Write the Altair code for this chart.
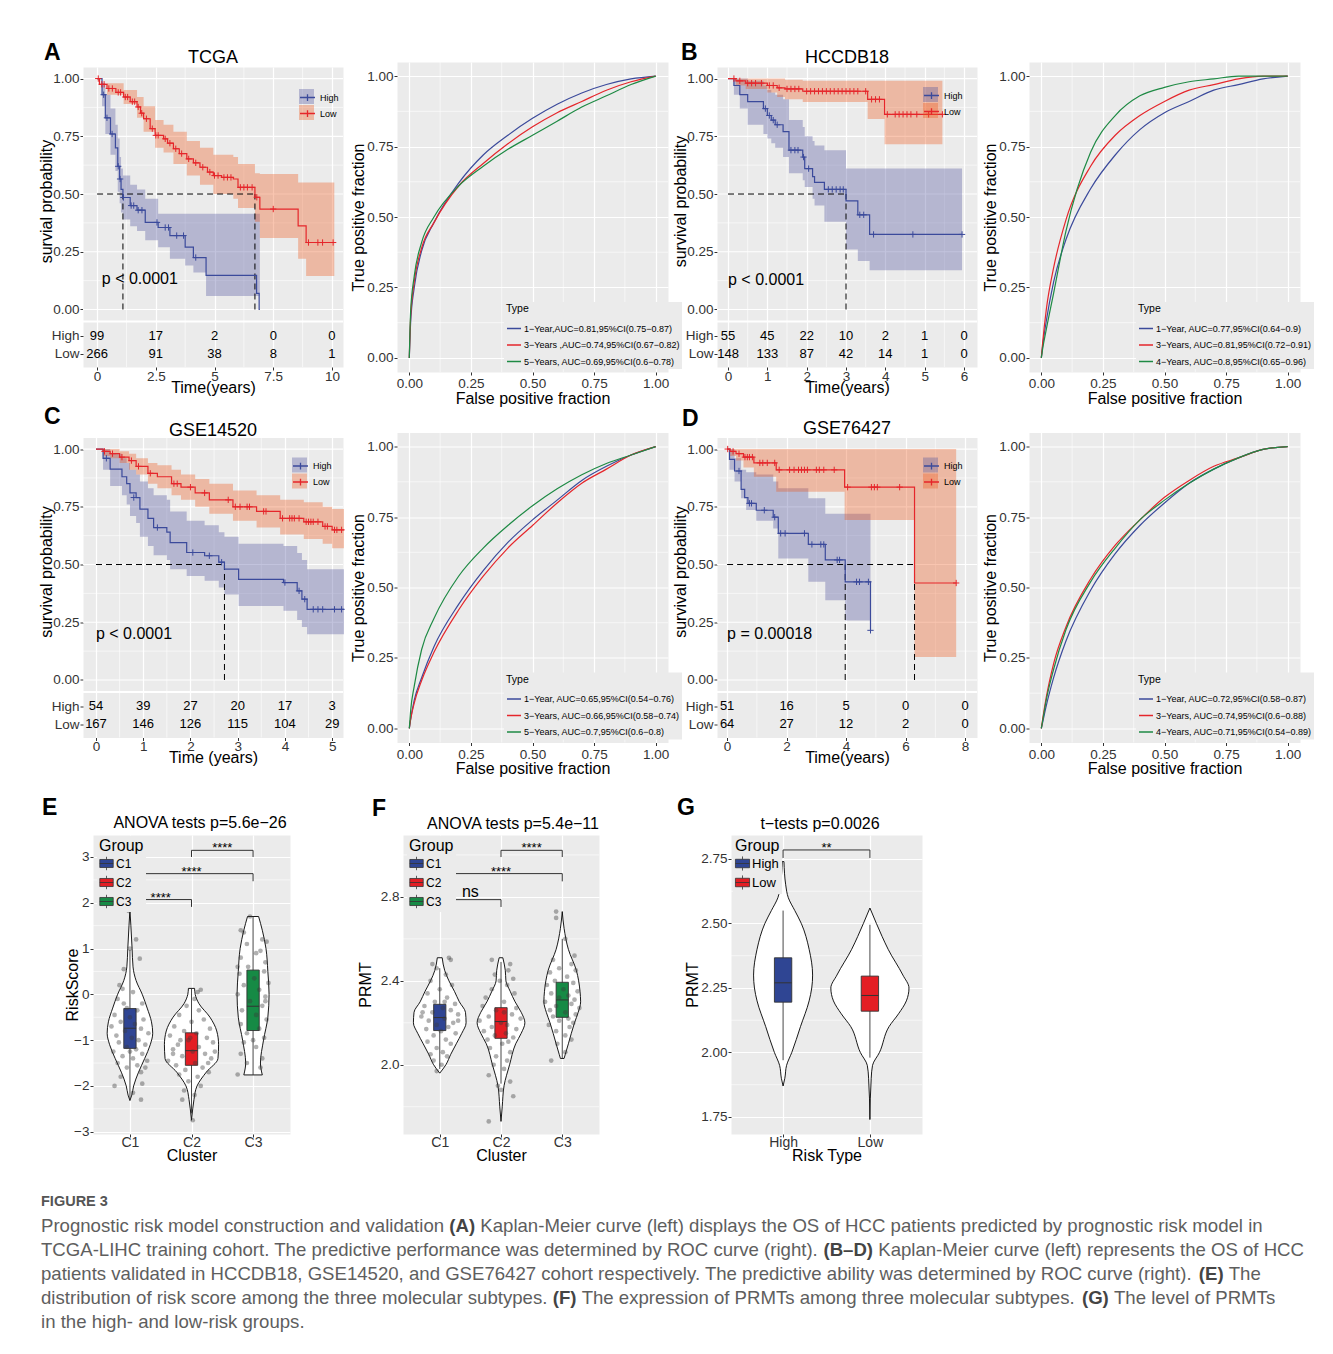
import altair as alt
import pandas as pd

FONT = "Liberation Sans"
PANEL = "#EBEBEB"
INK = "#333333"
BLUE = "#3B4A9B"
RED = "#E5262B"
GREEN = "#1E8A44"
BAND_BLUE = "#50549F"
BAND_RED = "#EE5A1C"
BOX_COLORS3 = ["#2F4593", "#E31E24", "#168A45"]
BOX_COLORS2 = ["#2F4593", "#E31E24"]

PLUS = "M-1,0H1M0,-1V1"
LEG_PLUS = "M-1,0H1M0,-0.45V0.45"
BOX_GLYPH = "M-1,-0.6H1V0.6H-1Z M-1,0H1 M0,-0.6V-1 M0,0.6V1"

KM_W, KM_H = 260, 300
ROC_W, ROC_H = 271, 310
KM_YDOM = [-0.249, 1.05]
RISK_ROW_Y = {"High": -0.114, "Low": -0.192}
KM_SPLIT_Y = -0.052
SURV_TICKS = [0, 0.25, 0.5, 0.75, 1.0]
SURV_MINOR = [0.125, 0.375, 0.625, 0.875]
FRAC_TICKS = [0, 0.25, 0.5, 0.75, 1.0]
FRAC_MINOR = [0.125, 0.375, 0.625, 0.875]

# ---------------- (A) TCGA ----------------
A_X_DOMAIN = [-0.6, 10.47]
A_X_TICKS = [0, 2.5, 5, 7.5, 10]
A_X_MINOR = [1.25, 3.75, 6.25, 8.75]
A_HIGH = [(0, 1.0), (0.21, 0.93), (0.35, 0.83), (0.57, 0.76), (0.78, 0.70), (0.88, 0.62), (0.96, 0.565),
          (1.02, 0.52), (1.1, 0.485), (1.41, 0.45), (1.7, 0.43), (2.05, 0.377), (2.6, 0.355), (3.1, 0.32),
          (3.75, 0.27), (4.1, 0.225), (4.64, 0.148), (6.79, 0.07), (6.9, 0.0), (6.93, 0.0)]
A_HIGH_BAND = [(0, 1.0, 1.0), (0.21, 0.88, 0.98), (0.35, 0.76, 0.93), (0.57, 0.67, 0.87), (0.78, 0.60, 0.80),
               (0.88, 0.51, 0.74), (0.96, 0.46, 0.66), (1.02, 0.42, 0.61), (1.1, 0.39, 0.58), (1.41, 0.36, 0.54),
               (1.7, 0.34, 0.52), (2.05, 0.30, 0.48), (2.6, 0.27, 0.415), (3.1, 0.22, 0.415), (3.75, 0.19, 0.415),
               (4.1, 0.16, 0.415), (4.64, 0.058, 0.415), (6.93, 0.058, 0.415)]
A_LOW = [(0, 1.0), (0.1, 0.975), (0.42, 0.957), (0.8, 0.94), (1.13, 0.92), (1.41, 0.90), (1.7, 0.877),
         (1.85, 0.85), (1.98, 0.826), (2.26, 0.783), (2.47, 0.754), (2.83, 0.739), (3.0, 0.72), (3.25, 0.696),
         (3.5, 0.675), (3.82, 0.652), (4.1, 0.635), (4.38, 0.616), (4.7, 0.595), (4.95, 0.58), (5.3, 0.572),
         (5.8, 0.565), (6.0, 0.529), (6.72, 0.486), (6.93, 0.435), (8.56, 0.362), (8.9, 0.29), (10.1, 0.29)]
A_LOW_BAND = [(0, 1.0, 1.0), (0.42, 0.93, 0.98), (1.13, 0.89, 0.95), (1.7, 0.83, 0.92), (1.98, 0.77, 0.88),
              (2.47, 0.70, 0.82), (2.83, 0.68, 0.80), (3.25, 0.63, 0.77), (3.82, 0.58, 0.73), (4.38, 0.54, 0.70),
              (4.95, 0.50, 0.67), (5.8, 0.48, 0.66), (6.0, 0.44, 0.63), (6.72, 0.38, 0.59), (6.93, 0.31, 0.587),
              (8.56, 0.22, 0.55), (8.9, 0.145, 0.55), (10.1, 0.145, 0.55)]
A_HIGH_CENS = [(0.28, 0.93), (0.42, 0.83), (0.64, 0.76), (0.9, 0.62), (0.98, 0.565), (1.12, 0.485), (1.45, 0.45),
               (1.56, 0.45), (1.75, 0.43), (1.91, 0.43), (2.55, 0.377), (2.9, 0.355), (3.04, 0.355), (3.39, 0.32),
               (3.68, 0.32), (4.2, 0.225)]
A_LOW_CENS = [(0.05, 1.0), (0.2, 0.975), (0.3, 0.975), (0.5, 0.957), (0.65, 0.957), (0.9, 0.94), (1.0, 0.94),
              (1.2, 0.92), (1.3, 0.92), (1.5, 0.90), (1.6, 0.90), (1.75, 0.877), (1.9, 0.85), (2.1, 0.826),
              (2.35, 0.783), (2.5, 0.754), (2.6, 0.754), (2.9, 0.739), (3.1, 0.72), (3.35, 0.696), (3.6, 0.675),
              (3.9, 0.652), (4.2, 0.635), (4.5, 0.616), (4.8, 0.595), (5.0, 0.58), (5.15, 0.58), (5.4, 0.572),
              (5.55, 0.572), (5.7, 0.572), (6.1, 0.529), (6.25, 0.529), (6.4, 0.529), (6.6, 0.529), (6.8, 0.486),
              (7.5, 0.435), (9.0, 0.29), (9.4, 0.29), (9.6, 0.29), (10.05, 0.29)]
A_MEDIANS = [1.1, 6.72]
A_RISK_T = [0, 2.5, 5, 7.5, 10]
A_RISK_HIGH = [99, 17, 2, 0, 0]
A_RISK_LOW = [266, 91, 38, 8, 1]

# ---------------- (B) HCCDB18 ----------------
B_X_DOMAIN = [-0.28, 6.33]
B_X_TICKS = [0, 1, 2, 3, 4, 5, 6]
B_X_MINOR = [0.5, 1.5, 2.5, 3.5, 4.5, 5.5]
B_HIGH = [(0, 1.0), (0.15, 0.97), (0.3, 0.93), (0.5, 0.90), (0.9, 0.87), (1.0, 0.84), (1.1, 0.82), (1.2, 0.80),
          (1.4, 0.77), (1.55, 0.69), (1.9, 0.66), (1.95, 0.61), (2.15, 0.575), (2.2, 0.55), (2.45, 0.52),
          (3.0, 0.47), (3.3, 0.41), (3.6, 0.325), (5.95, 0.325)]
B_HIGH_BAND = [(0, 1.0, 1.0), (0.15, 0.93, 1.0), (0.3, 0.87, 1.0), (0.5, 0.80, 0.99), (0.9, 0.76, 0.97),
               (1.0, 0.74, 0.95), (1.1, 0.72, 0.94), (1.2, 0.70, 0.93), (1.4, 0.66, 0.91), (1.55, 0.59, 0.82),
               (1.9, 0.56, 0.79), (1.95, 0.53, 0.75), (2.15, 0.48, 0.73), (2.2, 0.45, 0.71), (2.45, 0.38, 0.69),
               (3.0, 0.26, 0.61), (3.3, 0.21, 0.61), (3.6, 0.17, 0.61), (5.95, 0.17, 0.61)]
B_LOW = [(0, 1.0), (0.2, 0.99), (0.45, 0.98), (1.0, 0.97), (1.25, 0.96), (1.45, 0.955), (1.9, 0.945),
         (3.55, 0.91), (3.98, 0.845), (5.45, 0.845)]
B_LOW_BAND = [(0, 1.0, 1.0), (0.2, 0.97, 1.0), (0.45, 0.955, 1.0), (1.0, 0.94, 1.0), (1.25, 0.92, 1.0),
              (1.45, 0.91, 0.995), (1.9, 0.898, 0.99), (3.55, 0.825, 0.99), (3.98, 0.715, 0.99), (5.45, 0.715, 0.99)]
B_HIGH_CENS = [(0.95, 0.87), (1.05, 0.84), (1.15, 0.82), (1.25, 0.80), (1.6, 0.69), (1.7, 0.69), (1.78, 0.69),
               (1.92, 0.66), (2.05, 0.61), (2.55, 0.52), (2.65, 0.52), (2.75, 0.52), (2.85, 0.52), (2.93, 0.52),
               (3.35, 0.41), (3.45, 0.41), (3.7, 0.325), (4.7, 0.325), (5.95, 0.325)]
B_LOW_CENS = [(0.15, 1.0), (0.3, 0.99), (0.5, 0.98), (0.6, 0.98), (0.7, 0.98), (0.85, 0.98), (1.05, 0.97),
              (1.15, 0.97), (1.3, 0.96), (1.5, 0.955), (1.6, 0.955), (1.7, 0.955), (1.8, 0.955), (2.0, 0.945),
              (2.1, 0.945), (2.2, 0.945), (2.3, 0.945), (2.4, 0.945), (2.5, 0.945), (2.6, 0.945), (2.7, 0.945),
              (2.8, 0.945), (2.9, 0.945), (3.0, 0.945), (3.1, 0.945), (3.2, 0.945), (3.3, 0.945), (3.5, 0.945),
              (3.65, 0.91), (3.75, 0.91), (3.85, 0.91), (4.05, 0.845), (4.25, 0.845), (4.35, 0.845), (4.45, 0.845),
              (4.55, 0.845), (4.65, 0.845), (4.8, 0.845), (5.1, 0.845), (5.45, 0.845)]
B_MEDIANS = [3.0]
B_RISK_T = [0, 1, 2, 3, 4, 5, 6]
B_RISK_HIGH = [55, 45, 22, 10, 2, 1, 0]
B_RISK_LOW = [148, 133, 87, 42, 14, 1, 0]

# ---------------- (C) GSE14520 ----------------
C_X_DOMAIN = [-0.275, 5.23]
C_X_TICKS = [0, 1, 2, 3, 4, 5]
C_X_MINOR = [0.5, 1.5, 2.5, 3.5, 4.5]
C_HIGH = [(0, 1.0), (0.15, 0.96), (0.3, 0.913), (0.55, 0.88), (0.65, 0.85), (0.72, 0.81), (0.85, 0.79),
          (0.93, 0.74), (1.1, 0.70), (1.22, 0.66), (1.5, 0.64), (1.57, 0.595), (1.92, 0.552), (2.3, 0.538),
          (2.6, 0.51), (2.72, 0.48), (3.02, 0.436), (3.97, 0.422), (4.26, 0.386), (4.36, 0.35), (4.47, 0.306),
          (5.25, 0.306)]
C_HIGH_BAND = [(0, 1.0, 1.0), (0.15, 0.91, 1.0), (0.3, 0.84, 0.98), (0.55, 0.80, 0.96), (0.65, 0.76, 0.94),
               (0.72, 0.71, 0.91), (0.85, 0.68, 0.89), (0.93, 0.62, 0.86), (1.1, 0.58, 0.83), (1.22, 0.54, 0.80),
               (1.5, 0.52, 0.78), (1.57, 0.48, 0.73), (1.92, 0.45, 0.69), (2.3, 0.43, 0.67), (2.6, 0.40, 0.64),
               (2.72, 0.37, 0.62), (3.02, 0.32, 0.59), (3.97, 0.30, 0.58), (4.26, 0.26, 0.55), (4.36, 0.23, 0.52),
               (4.47, 0.198, 0.48), (5.25, 0.198, 0.48)]
C_LOW = [(0, 1.0), (0.15, 0.99), (0.3, 0.98), (0.5, 0.965), (0.7, 0.95), (0.85, 0.925), (1.1, 0.895),
         (1.3, 0.88), (1.6, 0.85), (1.8, 0.835), (2.1, 0.81), (2.4, 0.78), (2.9, 0.75), (3.4, 0.73), (3.9, 0.70),
         (4.4, 0.685), (4.8, 0.665), (5.0, 0.65), (5.25, 0.65)]
C_LOW_BAND = [(0, 1.0, 1.0), (0.15, 0.97, 1.0), (0.3, 0.96, 1.0), (0.5, 0.94, 0.99), (0.7, 0.91, 0.98),
              (0.85, 0.89, 0.96), (1.1, 0.85, 0.94), (1.3, 0.83, 0.93), (1.6, 0.80, 0.91), (1.8, 0.78, 0.89),
              (2.1, 0.75, 0.87), (2.4, 0.72, 0.85), (2.9, 0.69, 0.82), (3.4, 0.66, 0.80), (3.9, 0.63, 0.78),
              (4.4, 0.61, 0.77), (4.8, 0.59, 0.75), (5.0, 0.57, 0.74), (5.25, 0.57, 0.74)]
C_HIGH_CENS = [(0.22, 0.96), (0.8, 0.79), (1.3, 0.66), (2.05, 0.552), (2.4, 0.538), (2.66, 0.51), (4.0, 0.422),
               (4.3, 0.386), (4.42, 0.35), (4.6, 0.306), (4.7, 0.306), (4.8, 0.306), (5.05, 0.306), (5.2, 0.306)]
C_LOW_CENS = [(0.18, 0.99), (0.35, 0.98), (0.55, 0.965), (0.75, 0.95), (0.9, 0.925), (1.15, 0.895), (1.65, 0.85),
              (1.72, 0.85), (2.0, 0.835), (2.3, 0.81), (2.8, 0.78), (2.95, 0.75), (3.05, 0.75), (3.2, 0.75),
              (3.25, 0.75), (3.55, 0.73), (3.6, 0.73), (3.95, 0.70), (4.1, 0.70), (4.15, 0.70), (4.2, 0.70),
              (4.3, 0.70), (4.45, 0.685), (4.5, 0.685), (4.55, 0.685), (4.6, 0.685), (4.7, 0.685), (4.85, 0.665),
              (4.9, 0.665), (5.05, 0.65), (5.1, 0.65), (5.2, 0.65)]
C_MEDIANS = [2.72]
C_RISK_T = [0, 1, 2, 3, 4, 5]
C_RISK_HIGH = [54, 39, 27, 20, 17, 3]
C_RISK_LOW = [167, 146, 126, 115, 104, 29]

# ---------------- (D) GSE76427 ----------------
D_X_DOMAIN = [-0.34, 8.4]
D_X_TICKS = [0, 2, 4, 6, 8]
D_X_MINOR = [1, 3, 5, 7]
D_HIGH = [(0, 1.0), (0.08, 0.955), (0.25, 0.905), (0.47, 0.825), (0.59, 0.79), (0.7, 0.765), (0.98, 0.735),
          (1.55, 0.705), (1.72, 0.635), (2.73, 0.587), (3.3, 0.52), (3.97, 0.425), (4.82, 0.215)]
D_HIGH_BAND = [(0, 1.0, 1.0), (0.08, 0.91, 1.0), (0.25, 0.86, 0.96), (0.47, 0.787, 0.91), (0.64, 0.736, 0.90),
               (0.98, 0.69, 0.89), (1.55, 0.656, 0.86), (1.72, 0.526, 0.83), (2.73, 0.425, 0.787),
               (3.3, 0.345, 0.72), (3.97, 0.258, 0.72), (4.82, 0.258, 0.72)]
D_LOW = [(0, 1.0), (0.1, 0.99), (0.3, 0.98), (0.55, 0.965), (0.9, 0.94), (1.65, 0.91), (3.95, 0.835),
         (6.3, 0.42), (7.7, 0.42)]
D_LOW_BAND = [(0, 1.0, 1.0), (0.1, 0.97, 1.0), (0.3, 0.95, 1.0), (0.55, 0.92, 1.0), (0.9, 0.88, 1.0),
              (1.65, 0.815, 1.0), (3.95, 0.693, 1.0), (6.3, 0.10, 1.0), (7.7, 0.10, 1.0)]
D_HIGH_CENS = [(0.4, 0.905), (0.75, 0.765), (0.82, 0.765), (1.25, 0.735), (1.6, 0.705), (1.8, 0.635),
               (1.95, 0.635), (2.6, 0.635), (2.85, 0.587), (3.15, 0.587), (3.25, 0.587), (3.7, 0.52),
               (3.78, 0.52), (4.35, 0.425), (4.45, 0.425), (4.75, 0.425), (4.82, 0.215)]
D_LOW_CENS = [(0.02, 1.0), (0.2, 0.99), (0.4, 0.98), (0.6, 0.965), (0.68, 0.965), (0.75, 0.965), (0.85, 0.965),
              (1.1, 0.94), (1.2, 0.94), (1.35, 0.94), (1.6, 0.94), (1.75, 0.91), (2.1, 0.91), (2.25, 0.91),
              (2.4, 0.91), (2.5, 0.91), (2.6, 0.91), (2.7, 0.91), (3.0, 0.91), (3.1, 0.91), (3.25, 0.91),
              (3.6, 0.91), (4.05, 0.835), (4.85, 0.835), (4.95, 0.835), (5.05, 0.835), (5.8, 0.835), (7.7, 0.42)]
D_MEDIANS = [3.97, 6.3]
D_RISK_T = [0, 2, 4, 6, 8]
D_RISK_HIGH = [51, 16, 5, 0, 0]
D_RISK_LOW = [64, 27, 12, 2, 0]

# ---------------- ROC curves ----------------
FPR = [0, 0.005, 0.02, 0.05, 0.1, 0.2, 0.3, 0.4, 0.5, 0.6, 0.7, 0.8, 0.9, 1.0]
ROC_A = [[0, 0.12, 0.25, 0.38, 0.48, 0.62, 0.72, 0.79, 0.85, 0.90, 0.94, 0.97, 0.99, 1.0],
         [0, 0.14, 0.27, 0.39, 0.48, 0.61, 0.69, 0.76, 0.82, 0.87, 0.91, 0.95, 0.98, 1.0],
         [0, 0.16, 0.29, 0.41, 0.50, 0.61, 0.68, 0.74, 0.79, 0.84, 0.89, 0.93, 0.97, 1.0]]
ROC_A_LABELS = ["1\u2212Year,AUC=0.81,95%CI(0.75\u22120.87)", "3\u2212Years ,AUC=0.74,95%CI(0.67\u22120.82)",
                "5\u2212Years, AUC=0.69,95%CI(0.6\u22120.78)"]
ROC_B = [[0, 0.04, 0.13, 0.27, 0.42, 0.60, 0.72, 0.81, 0.87, 0.91, 0.95, 0.97, 0.99, 1.0],
         [0, 0.05, 0.17, 0.32, 0.49, 0.68, 0.79, 0.86, 0.91, 0.95, 0.97, 0.99, 1.0, 1.0],
         [0, 0.03, 0.10, 0.23, 0.45, 0.73, 0.86, 0.93, 0.96, 0.98, 0.99, 1.0, 1.0, 1.0]]
ROC_B_LABELS = ["1\u2212Year,  AUC=0.77,95%CI(0.64\u22120.9)", "3\u2212Years, AUC=0.81,95%CI(0.72\u22120.91)",
                "4\u2212Years, AUC=0.8,95%CI(0.65\u22120.96)"]
ROC_C = [[0, 0.03, 0.10, 0.18, 0.29, 0.44, 0.56, 0.66, 0.74, 0.81, 0.88, 0.93, 0.97, 1.0],
         [0, 0.03, 0.09, 0.17, 0.27, 0.42, 0.54, 0.64, 0.72, 0.80, 0.87, 0.92, 0.97, 1.0],
         [0, 0.06, 0.15, 0.28, 0.39, 0.54, 0.64, 0.72, 0.79, 0.85, 0.90, 0.94, 0.97, 1.0]]
ROC_C_LABELS = ["1\u2212Year,   AUC=0.65,95%CI(0.54\u22120.76)", "3\u2212Years, AUC=0.66,95%CI(0.58\u22120.74)",
                "5\u2212Years, AUC=0.7,95%CI(0.6\u22120.8)"]
ROC_D = [[0, 0.02, 0.08, 0.18, 0.31, 0.49, 0.62, 0.72, 0.80, 0.87, 0.92, 0.96, 0.99, 1.0],
         [0, 0.03, 0.11, 0.23, 0.36, 0.53, 0.65, 0.74, 0.82, 0.88, 0.93, 0.96, 0.99, 1.0],
         [0, 0.025, 0.10, 0.21, 0.35, 0.52, 0.64, 0.74, 0.81, 0.87, 0.92, 0.96, 0.99, 1.0]]
ROC_D_LABELS = ["1\u2212Year,  AUC=0.72,95%CI(0.58\u22120.87)", "3\u2212Years, AUC=0.74,95%CI(0.6\u22120.88)",
                "4\u2212Years, AUC=0.71,95%CI(0.54\u22120.89)"]

# ---------------- (E) RiskScore by cluster ----------------
CLUSTERS = ["C1", "C2", "C3"]
E_VIOLINS = [
    [(-2.32, 0.0), (-2.2, 0.03), (-2.0, 0.06), (-1.7, 0.14), (-1.4, 0.24), (-1.1, 0.33), (-0.85, 0.37),
     (-0.6, 0.35), (-0.3, 0.28), (0.0, 0.2), (0.3, 0.1), (0.6, 0.05), (1.0, 0.035), (1.5, 0.015), (1.84, 0.0)],
    [(-2.75, 0.0), (-2.5, 0.02), (-2.3, 0.04), (-2.0, 0.09), (-1.7, 0.24), (-1.4, 0.43), (-1.1, 0.44),
     (-0.8, 0.41), (-0.5, 0.3), (-0.2, 0.12), (0.0, 0.06), (0.13, 0.05)],
    [(-1.76, 0.15), (-1.5, 0.12), (-1.0, 0.17), (-0.5, 0.24), (0.0, 0.26), (0.5, 0.24), (1.0, 0.21),
     (1.4, 0.15), (1.7, 0.09)]]
E_BOX = [(-1.18, -0.74, -0.31, -2.3, 0.97), (-1.55, -1.23, -0.84, -2.6, 0.13), (-0.79, -0.26, 0.53, -1.76, 1.7)]
E_POINTS = [
    [(-0.02, 1.82), (0.1, 1.2), (0.0, 1.0), (0.16, 0.78), (-0.1, 0.55), (-0.17, 0.2), (-0.12, 0.12), (0.05, 0.05),
     (-0.2, -0.1), (0.2, -0.2), (-0.05, -0.3), (0.12, -0.35), (-0.25, -0.45), (0.0, -0.5), (0.22, -0.55),
     (-0.15, -0.6), (0.08, -0.65), (-0.3, -0.7), (0.18, -0.75), (-0.08, -0.8), (0.3, -0.85), (-0.22, -0.9),
     (0.03, -0.95), (0.14, -1.0), (-0.18, -1.05), (0.25, -1.1), (-0.05, -1.15), (0.1, -1.2), (-0.27, -1.25),
     (0.2, -1.3), (-0.12, -1.35), (0.05, -1.4), (0.28, -1.45), (-0.2, -1.5), (0.12, -1.55), (-0.05, -1.6),
     (0.18, -1.7), (-0.15, -1.8), (0.2, -1.95), (-0.25, -2.0), (0.18, -2.3), (0.05, -2.15), (0.0, -1.25),
     (-0.1, -0.2), (0.25, -1.6)],
    [(0.15, 0.1), (0.1, 0.05), (0.05, -0.1), (-0.08, -0.25), (0.12, -0.35), (-0.2, -0.45), (0.2, -0.55),
     (0.0, -0.6), (-0.28, -0.7), (0.3, -0.75), (-0.12, -0.8), (0.08, -0.85), (-0.35, -0.9), (0.25, -0.95),
     (-0.05, -1.0), (0.35, -1.05), (-0.22, -1.1), (0.12, -1.15), (-0.3, -1.2), (0.02, -1.25), (0.22, -1.3),
     (-0.15, -1.35), (0.32, -1.4), (-0.38, -1.45), (0.06, -1.5), (-0.25, -1.55), (0.18, -1.6), (-0.1, -1.65),
     (0.28, -1.7), (-0.2, -1.75), (0.1, -1.8), (-0.05, -1.9), (0.15, -2.0), (-0.12, -2.1), (0.05, -2.2),
     (-0.15, -2.3), (0.02, -2.75), (-0.3, -1.3), (0.38, -1.25), (-0.02, -0.95), (0.27, -1.5), (-0.18, -1.0)],
    [(-0.05, 1.7), (-0.2, 1.4), (-0.15, 1.35), (0.15, 1.2), (-0.1, 1.1), (0.12, 0.95), (0.05, 0.9), (-0.2, 0.8),
     (0.2, 0.7), (-0.08, 0.6), (0.18, 0.5), (-0.22, 0.45), (0.02, 0.35), (0.25, 0.25), (-0.15, 0.2), (0.1, 0.1),
     (-0.25, 0.0), (0.2, -0.05), (-0.05, -0.15), (0.15, -0.25), (-0.18, -0.35), (0.05, -0.45), (0.22, -0.55),
     (-0.2, -0.65), (0.1, -0.75), (-0.1, -0.85), (0.18, -0.95), (-0.15, -1.05), (0.05, -1.15), (-0.2, -1.3),
     (0.15, -1.4), (-0.1, -1.5), (0.12, -1.6), (-0.25, -1.75), (0.2, -0.15), (-0.25, 0.6), (0.22, 1.15),
     (0.0, -1.0)]]
E_BRACKETS = [(1, 2, 2.07, 1.91, "****"), (1, 3, 2.636, 2.47, "****"), (2, 3, 3.145, 3.0, "****")]

# ---------------- (F) PRMT by cluster ----------------
F_VIOLINS = [
    [(1.96, 0.0), (2.0, 0.1), (2.05, 0.18), (2.1, 0.27), (2.15, 0.36), (2.2, 0.43), (2.25, 0.42), (2.3, 0.32),
     (2.35, 0.24), (2.4, 0.15), (2.45, 0.08), (2.51, 0.04)],
    [(1.73, 0.0), (1.8, 0.02), (1.9, 0.05), (2.0, 0.14), (2.1, 0.24), (2.15, 0.33), (2.2, 0.39), (2.25, 0.33),
     (2.3, 0.23), (2.35, 0.15), (2.4, 0.08), (2.45, 0.07), (2.51, 0.03)],
    [(2.03, 0.03), (2.05, 0.05), (2.1, 0.1), (2.2, 0.2), (2.25, 0.26), (2.3, 0.3), (2.35, 0.29), (2.45, 0.23),
     (2.55, 0.1), (2.65, 0.03), (2.73, 0.0)]]
F_BOX = [(2.163, 2.225, 2.288, 1.98, 2.46), (2.126, 2.206, 2.272, 1.91, 2.49), (2.226, 2.309, 2.393, 2.03, 2.6)]
F_POINTS = [
    [(0.15, 2.51), (0.18, 2.5), (-0.12, 2.48), (-0.05, 2.46), (0.1, 2.43), (-0.15, 2.4), (0.2, 2.38), (0.0, 2.36),
     (-0.2, 2.34), (0.12, 2.32), (-0.08, 2.3), (0.25, 2.29), (-0.25, 2.28), (0.05, 2.27), (0.18, 2.26),
     (-0.12, 2.25), (0.3, 2.24), (-0.3, 2.23), (0.08, 2.22), (-0.18, 2.21), (0.22, 2.2), (-0.05, 2.19),
     (0.14, 2.18), (-0.22, 2.17), (0.02, 2.16), (0.26, 2.15), (-0.1, 2.14), (0.1, 2.12), (-0.2, 2.11),
     (0.18, 2.1), (-0.05, 2.08), (0.05, 2.06), (-0.15, 2.05), (0.12, 2.04), (-0.1, 2.02), (0.03, 2.0),
     (-0.05, 1.97), (0.08, 2.3), (-0.28, 2.25), (0.3, 2.21)],
    [(-0.15, 2.5), (0.15, 2.48), (0.12, 2.45), (-0.1, 2.43), (0.2, 2.41), (-0.02, 2.4), (0.1, 2.38), (-0.15, 2.36),
     (0.22, 2.34), (-0.25, 2.32), (0.05, 2.3), (-0.3, 2.28), (0.25, 2.27), (-0.08, 2.26), (0.18, 2.24),
     (-0.2, 2.23), (0.32, 2.22), (-0.35, 2.21), (0.0, 2.2), (0.1, 2.19), (-0.15, 2.18), (0.25, 2.17),
     (-0.28, 2.16), (0.08, 2.15), (-0.1, 2.14), (0.2, 2.13), (-0.22, 2.12), (0.12, 2.11), (0.02, 2.1),
     (-0.18, 2.08), (0.15, 2.06), (-0.08, 2.04), (0.1, 2.02), (-0.12, 2.0), (0.05, 1.98), (-0.2, 1.95),
     (0.15, 1.92), (-0.05, 1.9), (0.2, 1.85), (0.0, 1.88), (-0.2, 1.73), (0.05, 2.25)],
    [(-0.1, 2.73), (-0.1, 2.7), (0.05, 2.6), (0.2, 2.52), (-0.15, 2.5), (0.15, 2.48), (-0.05, 2.46), (0.22, 2.45),
     (-0.2, 2.44), (0.08, 2.42), (-0.12, 2.4), (0.18, 2.39), (-0.25, 2.38), (0.02, 2.36), (0.25, 2.35),
     (-0.18, 2.34), (0.1, 2.33), (-0.05, 2.32), (0.2, 2.31), (-0.28, 2.3), (0.15, 2.29), (-0.1, 2.28),
     (0.28, 2.27), (-0.2, 2.26), (0.05, 2.25), (0.22, 2.24), (-0.15, 2.23), (0.1, 2.22), (-0.05, 2.21),
     (0.18, 2.2), (-0.22, 2.19), (0.12, 2.18), (-0.1, 2.16), (0.05, 2.14), (0.15, 2.12), (-0.08, 2.1),
     (0.05, 2.06), (-0.18, 2.02)]]
F_BRACKETS = [(1, 2, 2.787, 2.752, "ns"), (1, 3, 2.911, 2.874, "****"), (2, 3, 3.022, 2.99, "****")]

# ---------------- (G) PRMT by risk type ----------------
RISK_TYPES = ["High", "Low"]
G_VIOLINS = [
    [(1.87, 0.0), (1.9, 0.02), (1.95, 0.04), (2.0, 0.1), (2.1, 0.2), (2.2, 0.3), (2.25, 0.33), (2.3, 0.34),
     (2.4, 0.3), (2.5, 0.21), (2.55, 0.135), (2.6, 0.06), (2.65, 0.03), (2.74, 0.01)],
    [(1.74, 0.0), (1.9, 0.015), (1.95, 0.03), (2.0, 0.11), (2.1, 0.22), (2.15, 0.33), (2.2, 0.42), (2.25, 0.45),
     (2.3, 0.38), (2.4, 0.21), (2.45, 0.14), (2.5, 0.075), (2.56, 0.0)]]
G_BOX = [(2.195, 2.27, 2.367, 1.97, 2.55), (2.16, 2.221, 2.296, 1.98, 2.495)]
G_BRACKETS = [(1, 2, 2.785, 2.754, "**")]

# ---------------- caption (segments: text, bold) ----------------
CAPTION_HEAD = "FIGURE 3"
CAPTION_LINES = [
    [("Prognostic risk model construction and validation ", False), ("(A)", True),
     (" Kaplan-Meier curve (left) displays the OS of HCC patients predicted by prognostic risk model in", False)],
    [("TCGA-LIHC training cohort. The predictive performance was determined by ROC curve (right). ", False),
     ("(B\u2013D)", True), (" Kaplan-Meier curve (left) represents the OS of HCC", False)],
    [("patients validated in HCCDB18, GSE14520, and GSE76427 cohort respectively. The predictive ability was "
      "determined by ROC curve (right). ", False), ("(E)", True), (" The", False)],
    [("distribution of risk score among the three molecular subtypes. ", False), ("(F)", True),
     (" The expression of PRMTs among three molecular subtypes. ", False), ("(G)", True),
     (" The level of PRMTs", False)],
    [("in the high- and low-risk groups.", False)],
]
CAP_FS = 18.6
CAP_W = 1217

# Arial / Liberation Sans advance widths (1/1000 em), used only to place the bold caption segments
REG_W = {" ": 278, ",": 278, "-": 333, ".": 278, "(": 333, ")": 333, "\u2013": 556, "'": 191}
REG_W.update({d: 556 for d in "0123456789"})
REG_W.update(dict(zip("ABCDEFGHIJKLMNOPQRSTUVWXYZ",
                      [667, 667, 722, 722, 667, 611, 778, 722, 278, 500, 667, 556, 833, 722, 778, 667, 778, 722,
                       667, 611, 722, 667, 944, 667, 667, 611])))
REG_W.update(dict(zip("abcdefghijklmnopqrstuvwxyz",
                      [556, 556, 500, 556, 556, 278, 556, 556, 222, 222, 500, 222, 833, 556, 556, 556, 556, 333,
                       500, 278, 556, 500, 722, 500, 500, 500])))
BOLD_W = {"(": 333, ")": 333, "A": 722, "B": 722, "D": 722, "E": 667, "F": 611, "G": 778, "\u2013": 556}

NOBG = alt.ViewBackground(fill="transparent", stroke="transparent")


def text_width(s, bold):
    tbl = BOLD_W if bold else REG_W
    return sum(tbl.get(c, REG_W.get(c, 556)) for c in s) * CAP_FS / 1000.0


def indep(c):
    return c.resolve_scale(fill="independent", stroke="independent").resolve_legend(
        fill="independent", stroke="independent")


def text_layer(txt, px, py, size, bold=False, align="left"):
    return alt.Chart(pd.DataFrame({"l": [txt]})).mark_text(
        align=align, baseline="middle", fontSize=size, fontWeight="bold" if bold else "normal",
        color="black").encode(x=alt.value(px), y=alt.value(py), text="l:N")


def spacer(w):
    return alt.Chart(pd.DataFrame({"v": [0]})).mark_point(opacity=0).encode(
        x=alt.X("v:Q", axis=None), y=alt.Y("v:Q", axis=None)).properties(width=w, height=1, view=NOBG)


def km_panel(letter, lpos, title, ty, ytitle, xtitle, xdom, xticks, xminor, high, low, high_band, low_band,
             high_cens, low_cens, medians, ptext, ppos, rt, rh, rl, lx, ly):
    xs = alt.Scale(domain=xdom, nice=False, zero=False)
    ys = alt.Scale(domain=KM_YDOM, nice=False, zero=False)
    xaxis = alt.Axis(values=xticks, format=".1~f", grid=True, titlePadding=-3.5, labelPadding=-1)
    yexpr = ("datum.value < -0.05 ? (datum.value > -0.15 ? 'High' : 'Low') : format(datum.value, '.2f')")
    yaxis = alt.Axis(values=SURV_TICKS + [RISK_ROW_Y["High"], RISK_ROW_Y["Low"]], labelExpr=yexpr, grid=False,
                     titlePadding=-3, titleY=134)

    def X(f):
        return alt.X(f"{f}:Q", scale=xs, axis=xaxis, title=xtitle)

    def Y(f):
        return alt.Y(f"{f}:Q", scale=ys, axis=yaxis, title=ytitle)

    curves = pd.DataFrame([{"t": t, "s": s, "grp": g} for g, pts in (("High", high), ("Low", low)) for t, s in pts])
    cens = pd.DataFrame([{"t": t, "s": s, "grp": g} for g, pts in (("High", high_cens), ("Low", low_cens)) for t, s in pts])
    bands = pd.DataFrame([{"t": t, "lo": lo, "hi": hi, "bgrp": g}
                          for g, b in (("High", high_band), ("Low", low_band)) for t, lo, hi in b])
    hend = max(medians)
    meds = pd.DataFrame([{"x": m, "x2": m, "y": 0.0, "y2": 0.5} for m in medians] +
                        [{"x": 0.0, "x2": hend, "y": 0.5, "y2": 0.5}])
    ptxt = pd.DataFrame([{"t": ppos[0], "s": ppos[1], "label": ptext}])
    tab = pd.DataFrame([{"t": t, "s": RISK_ROW_Y["High"], "n": n} for t, n in zip(rt, rh)] +
                       [{"t": t, "s": RISK_ROW_Y["Low"], "n": n} for t, n in zip(rt, rl)])

    stroke_leg = alt.Legend(title=None, orient="none", legendX=lx, legendY=ly, symbolType=LEG_PLUS,
                            symbolSize=225, symbolStrokeWidth=1.3, labelFontSize=9, labelOffset=4,
                            rowPadding=1, padding=0)
    fill_leg = alt.Legend(title=None, orient="none", legendX=lx, legendY=ly, symbolType="square",
                          symbolSize=225, symbolStrokeWidth=0, labelExpr="''", labelFontSize=9,
                          rowPadding=1, padding=0, symbolOpacity=0.35)
    sscale = alt.Scale(domain=["High", "Low"], range=[BLUE, RED])

    hmajor = alt.Chart(pd.DataFrame({"s": SURV_TICKS})).mark_rule(color="white", strokeWidth=1.2).encode(y=Y("s"))
    hminor = alt.Chart(pd.DataFrame({"s": SURV_MINOR})).mark_rule(color="white", strokeWidth=0.6).encode(y=Y("s"))
    vminor = alt.Chart(pd.DataFrame({"t": xminor})).mark_rule(color="white", strokeWidth=0.6).encode(x=X("t"))
    split = alt.Chart(pd.DataFrame({"s": [KM_SPLIT_Y]})).mark_rule(color="white", strokeWidth=2).encode(y=Y("s"))
    band = alt.Chart(bands).mark_area(interpolate="step-after", opacity=0.35).encode(
        x=X("t"), y=Y("lo"), y2="hi:Q",
        fill=alt.Fill("bgrp:N", scale=alt.Scale(range=[BAND_BLUE, BAND_RED]), legend=fill_leg))
    med = alt.Chart(meds).mark_rule(color="black", strokeDash=[6, 4], strokeWidth=1).encode(
        x=X("x"), x2="x2:Q", y=Y("y"), y2="y2:Q")
    line = alt.Chart(curves).mark_line(interpolate="step-after", strokeWidth=1.2).encode(
        x=X("t"), y=Y("s"), stroke=alt.Stroke("grp:N", scale=sscale, legend=stroke_leg))
    cen = alt.Chart(cens).mark_point(shape=PLUS, size=40, strokeWidth=1, filled=False, opacity=1).encode(
        x=X("t"), y=Y("s"), stroke=alt.Stroke("grp:N", scale=sscale, legend=stroke_leg))
    pt = alt.Chart(ptxt).mark_text(align="left", baseline="middle", fontSize=16, color="black").encode(
        x=X("t"), y=Y("s"), text="label:N")
    rtab = alt.Chart(tab).mark_text(fontSize=13, color="black", baseline="middle").encode(
        x=X("t"), y=Y("s"), text="n:Q")
    return alt.layer(hmajor, hminor, vminor, split, band, med, line, cen, pt, rtab,
                     text_layer(letter, lpos[0], lpos[1], 23, bold=True),
                     text_layer(title, KM_W / 2, ty, 18, align="center")).properties(width=KM_W, height=KM_H)


def roc_panel(curves, labels):
    sc = alt.Scale(domain=[-0.05, 1.05], nice=False, zero=False)
    rows = pd.DataFrame([{"fpr": f, "tpr": v, "type": lab} for lab, vals in zip(labels, curves)
                         for f, v in zip(FPR, vals)])
    xaxis = alt.Axis(values=FRAC_TICKS, format=".2f", grid=True, titlePadding=0, labelPadding=1.5)
    yaxis = alt.Axis(values=FRAC_TICKS, format=".2f", grid=True, titlePadding=0)

    def X(f):
        return alt.X(f"{f}:Q", scale=sc, axis=xaxis, title="False positive fraction")

    def Y(f):
        return alt.Y(f"{f}:Q", scale=sc, axis=yaxis, title="True positive fraction")

    vminor = alt.Chart(pd.DataFrame({"fpr": FRAC_MINOR})).mark_rule(color="white", strokeWidth=0.6).encode(x=X("fpr"))
    hminor = alt.Chart(pd.DataFrame({"tpr": FRAC_MINOR})).mark_rule(color="white", strokeWidth=0.6).encode(y=Y("tpr"))
    leg = alt.Legend(title="Type", orient="none", legendX=107, legendY=240, fillColor=PANEL, labelFontSize=9,
                     titleFontSize=10.5, symbolType="stroke", symbolSize=196, symbolStrokeWidth=1.5,
                     rowPadding=3.5, labelOffset=2, titlePadding=6, padding=2, labelLimit=400)
    line = alt.Chart(rows).mark_line(interpolate="monotone", strokeWidth=1.2).encode(
        x=X("fpr"), y=Y("tpr"),
        stroke=alt.Stroke("type:N", scale=alt.Scale(domain=labels, range=[BLUE, RED, GREEN]), legend=leg))
    return alt.layer(vminor, hminor, line).properties(width=ROC_W, height=ROC_H)


def violin_panel(letter, lpos, title, tpos, cats, colors, violins, boxes, points, brackets,
                 xdom, width, ydom, yticks, yminor, yfmt, ytitle, ytp, xtitle, lx, ly, lfs, lss, lrp):
    xs = alt.Scale(domain=xdom, nice=False, zero=False)
    ys = alt.Scale(domain=ydom, nice=False, zero=False)
    expr = "[''," + ",".join(f"'{c}'" for c in cats) + "][datum.value]"
    xaxis = alt.Axis(values=list(range(1, len(cats) + 1)), labelExpr=expr, grid=True, titlePadding=-2,
                     labelFontSize=14, labelPadding=-2)
    yaxis = alt.Axis(values=yticks, format=yfmt, grid=True, titlePadding=ytp)

    def X(f):
        return alt.X(f"{f}:Q", scale=xs, axis=xaxis, title=xtitle)

    def Y(f):
        return alt.Y(f"{f}:Q", scale=ys, axis=yaxis, title=ytitle)

    hminor = alt.Chart(pd.DataFrame({"v": yminor})).mark_rule(color="white", strokeWidth=0.6).encode(y=Y("v"))
    vdf = pd.DataFrame([{"c": i + 1, "y": y, "w": w} for i, o in enumerate(violins) for y, w in o])
    violin = alt.Chart(vdf).transform_calculate(xl="datum.c - datum.w", xr="datum.c + datum.w").mark_area(
        orient="horizontal", interpolate="monotone", fill="white", stroke="black", strokeWidth=0.9).encode(
        y=Y("y"), x=X("xl"), x2="xr:Q", detail="c:N")
    bdf = pd.DataFrame([{"c": i + 1, "grp": cats[i], "q1": b[0], "med": b[1], "q3": b[2], "lo": b[3], "hi": b[4]}
                        for i, b in enumerate(boxes)])
    leg = alt.Legend(title="Group", orient="none", legendX=lx, legendY=ly, fillColor=PANEL, symbolType=BOX_GLYPH,
                     symbolSize=lss, symbolStrokeColor=INK, symbolStrokeWidth=0.8, labelFontSize=lfs,
                     titleFontSize=16, rowPadding=lrp, labelOffset=2, titlePadding=2, padding=2)
    whisk = alt.Chart(bdf).mark_rule(color=INK, strokeWidth=0.9).encode(x=X("c"), y=Y("lo"), y2="hi:Q")
    box = alt.Chart(bdf).transform_calculate(bl="datum.c - 0.1", br="datum.c + 0.1").mark_rect(
        stroke=INK, strokeWidth=0.9).encode(
        x=X("bl"), x2="br:Q", y=Y("q1"), y2="q3:Q",
        fill=alt.Fill("grp:N", scale=alt.Scale(domain=cats, range=colors), legend=leg))
    med = alt.Chart(bdf).transform_calculate(bl="datum.c - 0.1", br="datum.c + 0.1").mark_rule(
        color=INK, strokeWidth=1).encode(x=X("bl"), x2="br:Q", y=Y("med"))
    layers = [hminor, violin, whisk, box, med]
    if points:
        pdf = pd.DataFrame([{"c": i + 1, "dx": dx, "y": y} for i, p in enumerate(points) for dx, y in p])
        layers.append(alt.Chart(pdf).transform_calculate(px="datum.c + datum.dx").mark_circle(
            color="#3A3A3A", opacity=0.4, size=22).encode(x=X("px"), y=Y("y")))
    hdf = pd.DataFrame([{"a": a, "b": b, "y": y, "lab": lab} for a, b, y, yl, lab in brackets])
    ldf = pd.DataFrame([{"x": x, "y": y, "yl": yl} for a, b, y, yl, lab in brackets for x in (a, b)])
    layers.append(alt.Chart(hdf).mark_rule(color=INK, strokeWidth=1).encode(x=X("a"), x2="b:Q", y=Y("y")))
    layers.append(alt.Chart(ldf).mark_rule(color=INK, strokeWidth=1).encode(x=X("x"), y=Y("y"), y2="yl:Q"))
    stars = hdf[hdf["lab"] != "ns"]
    ns = hdf[hdf["lab"] == "ns"]
    if len(stars):
        layers.append(alt.Chart(stars).transform_calculate(xm="(datum.a + datum.b) / 2").mark_text(
            fontSize=13, baseline="alphabetic", dy=2, color="black").encode(x=X("xm"), y=Y("y"), text="lab:N"))
    if len(ns):
        layers.append(alt.Chart(ns).transform_calculate(xm="(datum.a + datum.b) / 2").mark_text(
            fontSize=16, baseline="alphabetic", dy=-3, color="black").encode(x=X("xm"), y=Y("y"), text="lab:N"))
    layers.append(text_layer(letter, lpos[0], lpos[1], 23, bold=True))
    layers.append(text_layer(title, tpos[0], tpos[1], 16, align="center"))
    return alt.layer(*layers).properties(width=width, height=299)


KM_A = km_panel("A", (-39, -14), "TCGA", -9, "survial probability", "Time(years)", A_X_DOMAIN, A_X_TICKS,
                A_X_MINOR, A_HIGH, A_LOW, A_HIGH_BAND, A_LOW_BAND, A_HIGH_CENS, A_LOW_CENS, A_MEDIANS,
                "p < 0.0001", (0.2, 0.13), A_RISK_T, A_RISK_HIGH, A_RISK_LOW, 216, 22)
KM_B = km_panel("B", (-36, -14), "HCCDB18", -9, "survival probability", "Time(years)", B_X_DOMAIN, B_X_TICKS,
                B_X_MINOR, B_HIGH, B_LOW, B_HIGH_BAND, B_LOW_BAND, B_HIGH_CENS, B_LOW_CENS, B_MEDIANS,
                "p < 0.0001", (0.0, 0.128), B_RISK_T, B_RISK_HIGH, B_RISK_LOW, 206, 20)
KM_C = km_panel("C", (-39, -21), "GSE14520", -7, "survival probability", "Time (years)", C_X_DOMAIN, C_X_TICKS,
                C_X_MINOR, C_HIGH, C_LOW, C_HIGH_BAND, C_LOW_BAND, C_HIGH_CENS, C_LOW_CENS, C_MEDIANS,
                "p < 0.0001", (0.0, 0.198), C_RISK_T, C_RISK_HIGH, C_RISK_LOW, 209, 20)
KM_D = km_panel("D", (-35, -19), "GSE76427", -9, "survival probability", "Time(years)", D_X_DOMAIN, D_X_TICKS,
                D_X_MINOR, D_HIGH, D_LOW, D_HIGH_BAND, D_LOW_BAND, D_HIGH_CENS, D_LOW_CENS, D_MEDIANS,
                "p = 0.00018", (0.0, 0.197), D_RISK_T, D_RISK_HIGH, D_RISK_LOW, 206, 20)

E_P = violin_panel("E", (-51, -27), "ANOVA tests p=5.6e\u221226", (107, -12), CLUSTERS, BOX_COLORS3, E_VIOLINS,
                   E_BOX, E_POINTS, E_BRACKETS, [0.4, 3.6], 197, [-3.05, 3.48], [-3, -2, -1, 0, 1, 2, 3],
                   [-2.5, -1.5, -0.5, 0.5, 1.5, 2.5], "d", "RiskScore", -7, "Cluster", 4, 1, 12, 180, 2)
F_P = violin_panel("F", (-31, -26), "ANOVA tests p=5.4e\u221211", (110, -11), CLUSTERS, BOX_COLORS3, F_VIOLINS,
                   F_BOX, F_POINTS, F_BRACKETS, [0.4, 3.6], 196, [1.67, 3.095], [2.0, 2.4, 2.8],
                   [1.8, 2.2, 2.6, 3.0], ".1f", "PRMT", 7, "Cluster", 4, 1, 12, 180, 2)
G_P = violin_panel("G", (-54, -27), "t\u2212tests p=0.0026", (89, -11), RISK_TYPES, BOX_COLORS2, G_VIOLINS,
                   G_BOX, None, G_BRACKETS, [0.4, 2.6], 191, [1.684, 2.843], [1.75, 2.0, 2.25, 2.5, 2.75],
                   [1.875, 2.125, 2.375, 2.625], ".2f", "PRMT", 0, "Risk Type", 2, 1, 13, 200, 0)

# caption rows: x offsets follow from the widths of the preceding characters
cap_rows = [{"i": 0, "txt": CAPTION_HEAD, "x": -42.0, "bold": True}]
for li, segs in enumerate(CAPTION_LINES, start=1):
    acc = 0.0
    for txt, bold in segs:
        lead = len(txt) - len(txt.lstrip(" "))
        cap_rows.append({"i": li, "txt": txt.strip(" "), "x": acc + text_width(" " * lead, False) - 42.0,
                         "bold": bold})
        acc += text_width(txt, bold)
cap_df = pd.DataFrame(cap_rows)
capX = alt.X("x:Q", scale=alt.Scale(domain=[0, CAP_W], nice=False, zero=False), axis=None)
capY = alt.Y("i:O", axis=None, scale=alt.Scale(type="point", padding=0.5))
cap_head = alt.Chart(cap_df[cap_df["i"] == 0]).mark_text(
    align="left", baseline="middle", fontSize=14.5, fontWeight="bold", color="#555555").encode(
    x=capX, y=capY, text="txt:N")
cap_norm = alt.Chart(cap_df[(cap_df["i"] > 0) & (~cap_df["bold"])]).mark_text(
    align="left", baseline="middle", fontSize=CAP_FS, color="#5E5E5E").encode(x=capX, y=capY, text="txt:N")
cap_bold = alt.Chart(cap_df[(cap_df["i"] > 0) & (cap_df["bold"])]).mark_text(
    align="left", baseline="middle", fontSize=CAP_FS, fontWeight="bold", color="#444444").encode(
    x=capX, y=capY, text="txt:N")
caption = alt.layer(cap_head, cap_norm, cap_bold).properties(width=CAP_W, height=144, view=NOBG)

row1 = indep(alt.hconcat(KM_A, spacer(54), roc_panel(ROC_A, ROC_A_LABELS), spacer(49), KM_B, spacer(52),
                         roc_panel(ROC_B, ROC_B_LABELS), spacing=0, bounds="flush", center=True))
row2 = indep(alt.hconcat(KM_C, spacer(54), roc_panel(ROC_C, ROC_C_LABELS), spacer(49), KM_D, spacer(52),
                         roc_panel(ROC_D, ROC_D_LABELS), spacing=0, bounds="flush", center=True))
row3 = indep(alt.hconcat(spacer(10), E_P, spacer(113), F_P, spacer(132), G_P, spacing=0, bounds="flush"))

top = indep(alt.vconcat(
    indep(alt.vconcat(row1, row2, spacing=-2.5)),
    indep(alt.vconcat(row3, caption, spacing=25)),
    spacing=19))

chart = top.properties(
    padding={"left": 29, "top": 33, "right": 10, "bottom": 4}
).configure(font=FONT, background="white").configure_view(
    fill=PANEL, stroke="transparent"
).configure_axis(
    labelFont=FONT, titleFont=FONT, labelFontSize=13.5, titleFontSize=16, labelColor=INK, tickColor=INK,
    tickSize=3, tickWidth=1, domain=False, gridColor="white", gridWidth=1.2, titleFontWeight="normal",
    titleColor="black", labelPadding=1, labelFlush=False, labelOverlap=False
).configure_legend(
    labelFont=FONT, titleFont=FONT, titleFontWeight="normal", labelColor="black", titleColor="black"
)

chart.save("out.html", embed_options={"renderer": "svg", "actions": False})
